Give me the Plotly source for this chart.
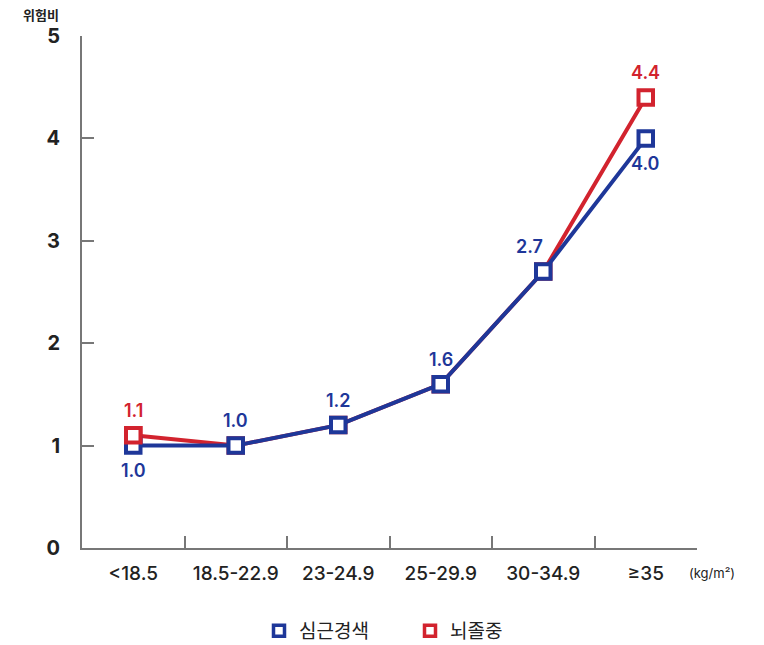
import plotly.graph_objects as go

categories = ["<18.5", "18.5-22.9", "23-24.9", "25-29.9", "30-34.9", "≥35"]
mi_values = [1.0, 1.0, 1.2, 1.6, 2.7, 4.0]      # 심근경색
stroke_values = [1.1, 1.0, 1.2, 1.6, 2.7, 4.4]  # 뇌졸중
y_ticks = [0, 1, 2, 3, 4, 5]

BLUE = "#1e3799"
RED = "#d2232e"
FONT = "Inter, Noto Sans CJK KR"
KFONT = "Noto Sans CJK KR"

# label styling: which points get labels, above (+1) / below (-1), horizontal nudge
stroke_label_side = [1, 0, 0, 0, 0, 1]
mi_label_side = [-1, 1, 1, 1, 1, -1]
mi_label_nudge = [0, 0, 0, 0, -14, 0]

W, H = 764, 645
ML, MR, MT, MB = 82, 67, 36, 97
plot_w = W - ML - MR
plot_h = H - MT - MB

MK = dict(symbol="square", size=14.5, color="white")
MLW = 4

fig = go.Figure()

fig.add_trace(go.Scatter(
    x=categories, y=stroke_values, mode="lines+markers", name="뇌졸중",
    line=dict(color=RED, width=4),
    marker=dict(**MK, line=dict(color=RED, width=MLW)),
    showlegend=False, cliponaxis=False,
))
fig.add_trace(go.Scatter(
    x=categories, y=mi_values, mode="lines+markers", name="심근경색",
    line=dict(color=BLUE, width=4),
    marker=dict(**MK, line=dict(color=BLUE, width=MLW)),
    showlegend=False, cliponaxis=False,
))
# red marker of the first category drawn on top
fig.add_trace(go.Scatter(
    x=categories[:1], y=stroke_values[:1], mode="markers",
    marker=dict(**MK, line=dict(color=RED, width=MLW)),
    showlegend=False, cliponaxis=False, hoverinfo="skip",
))

# legend entries
fig.add_trace(go.Scatter(
    x=[None], y=[None], mode="markers", name="심근경색",
    marker=dict(symbol="square", size=11, color="white", line=dict(color=BLUE, width=3.5)),
))
fig.add_trace(go.Scatter(
    x=[None], y=[None], mode="markers", name="뇌졸중",
    marker=dict(symbol="square", size=11, color="white", line=dict(color=RED, width=3.5)),
))

annotations = []
for cat, v, side in zip(categories, stroke_values, stroke_label_side):
    if side:
        annotations.append(dict(x=cat, y=v, xref="x", yref="y", text=f"{v:.1f}",
                                showarrow=False, yshift=25 * side,
                                font=dict(color=RED, size=18, family=FONT, weight=600)))
for cat, v, side, nudge in zip(categories, mi_values, mi_label_side, mi_label_nudge):
    annotations.append(dict(x=cat, y=v, xref="x", yref="y", text=f"{v:.1f}",
                            showarrow=False, yshift=25 * side, xshift=nudge,
                            font=dict(color=BLUE, size=18, family=FONT, weight=600)))
annotations += [
    dict(text="<b>위험비</b>", xref="paper", yref="paper",
         x=(41 - ML) / plot_w, y=(MT + plot_h - 14) / plot_h,
         xanchor="center", yanchor="middle", showarrow=False,
         font=dict(size=13, family=KFONT, color="#222222")),
    dict(text="(kg/m²)", xref="paper", yref="paper",
         x=(712 - ML) / plot_w, y=(MT + plot_h - 573) / plot_h,
         xanchor="center", yanchor="middle", showarrow=False,
         font=dict(size=13, family=FONT, color="#222222")),
]

fig.update_layout(
    width=W, height=H,
    margin=dict(l=ML, r=MR, t=MT, b=MB, autoexpand=False),
    paper_bgcolor="white", plot_bgcolor="white",
    font=dict(family=FONT, color="#222222"),
    showlegend=True,
    legend=dict(orientation="h", x=(259 - ML) / plot_w, xanchor="left",
                y=(MT + plot_h - 631) / plot_h, yanchor="middle",
                font=dict(size=19, family=KFONT, color="#222222"),
                itemwidth=30, entrywidth=106, entrywidthmode="pixels",
                tracegroupgap=0, borderwidth=0),
    xaxis=dict(
        type="category", range=[-0.5, 5.5], tickson="boundaries",
        ticks="inside", ticklen=12, tickwidth=1.5, tickcolor="#777777",
        showline=True, linecolor="#777777", linewidth=2,
        showgrid=False, zeroline=False,
        tickfont=dict(size=19, family=FONT, color="#222222", weight=500),
        ticklabelstandoff=7,
    ),
    yaxis=dict(
        range=[0, 5], tickvals=y_ticks, ticktext=[str(v) for v in y_ticks],
        ticks="inside", ticklen=12, tickwidth=1.5, tickcolor="#777777",
        showline=True, linecolor="#777777", linewidth=2,
        showgrid=False, zeroline=False,
        tickfont=dict(size=20, family=FONT, color="#222222", weight="bold"),
        ticklabelstandoff=16,
    ),
    annotations=annotations,
)

fig.write_html("out.html", config={"displayModeBar": False},
               post_script="document.body.style.margin='0';")
